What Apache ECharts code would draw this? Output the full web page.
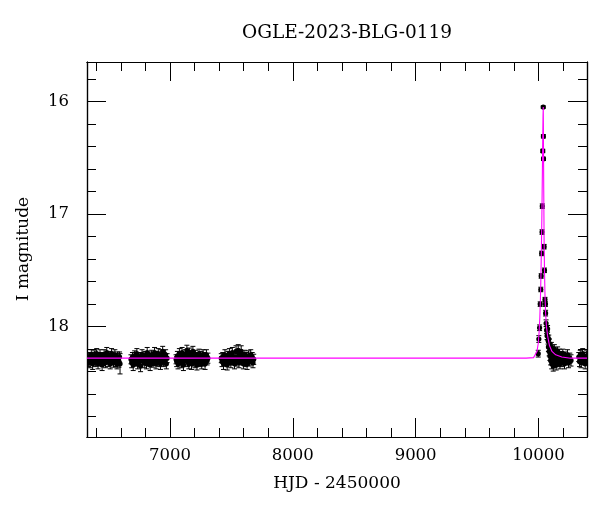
<!DOCTYPE html>
<html>
<head>
<meta charset="utf-8">
<script src="https://cdn.jsdelivr.net/npm/echarts@6/dist/echarts.min.js"></script>
<style>html,body{margin:0;padding:0;background:#fff}#c{width:600px;height:512px}</style>
</head>
<body>
<div id="c"></div>
<script>
// ---- data: [HJD-2450000, I mag, error] ----
const seasonA = [[6332,18.28,0.04],[6338,18.31,0.045],[6343,18.27,0.04],[6349,18.32,0.045],[6354,18.29,0.04],[6360,18.25,0.045],[6365,18.30,0.04],[6371,18.33,0.05],[6376,18.27,0.04],[6382,18.29,0.04],[6387,18.26,0.045],[6393,18.31,0.045],[6398,18.28,0.04],[6404,18.24,0.045],[6409,18.30,0.04],[6415,18.33,0.045],[6420,18.27,0.04],[6426,18.29,0.04],[6431,18.25,0.045],[6437,18.31,0.04],[6442,18.28,0.04],[6448,18.34,0.05],[6453,18.27,0.04],[6459,18.30,0.045],[6464,18.25,0.045],[6470,18.29,0.04],[6475,18.32,0.045],[6481,18.27,0.04],[6486,18.23,0.045],[6492,18.29,0.04],[6497,18.31,0.045],[6503,18.26,0.04],[6508,18.29,0.04],[6514,18.33,0.045],[6519,18.28,0.04],[6525,18.24,0.045],[6530,18.30,0.04],[6536,18.27,0.045],[6541,18.32,0.04],[6547,18.29,0.04],[6552,18.25,0.045],[6558,18.31,0.045],[6563,18.28,0.04],[6569,18.33,0.045],[6574,18.27,0.045],[6580,18.29,0.04],[6585,18.31,0.05],[6590,18.27,0.045],[6594,18.33,0.09]];
const seasonB = [[6683,18.29,0.04],[6689,18.32,0.045],[6695,18.27,0.04],[6701,18.34,0.05],[6707,18.30,0.04],[6713,18.26,0.045],[6719,18.31,0.04],[6725,18.28,0.04],[6731,18.24,0.045],[6737,18.33,0.045],[6743,18.29,0.04],[6749,18.27,0.04],[6755,18.31,0.045],[6761,18.35,0.05],[6767,18.27,0.04],[6773,18.25,0.045],[6779,18.30,0.04],[6785,18.28,0.04],[6791,18.32,0.045],[6797,18.26,0.04],[6803,18.29,0.04],[6809,18.33,0.045],[6815,18.23,0.045],[6821,18.29,0.04],[6827,18.31,0.04],[6833,18.27,0.045],[6839,18.34,0.05],[6845,18.28,0.04],[6851,18.25,0.04],[6857,18.30,0.045],[6863,18.32,0.04],[6869,18.27,0.04],[6875,18.23,0.045],[6881,18.29,0.04],[6887,18.33,0.045],[6893,18.26,0.04],[6899,18.29,0.04],[6905,18.24,0.045],[6911,18.31,0.045],[6917,18.28,0.04],[6923,18.33,0.05],[6929,18.25,0.045],[6935,18.29,0.04],[6941,18.22,0.045],[6947,18.31,0.045],[6953,18.27,0.04],[6959,18.30,0.04],[6965,18.25,0.045],[6971,18.33,0.045],[6977,18.28,0.04]];
const seasonC = [[7050,18.29,0.04],[7055,18.31,0.045],[7061,18.26,0.04],[7066,18.33,0.045],[7072,18.29,0.04],[7077,18.24,0.045],[7083,18.31,0.04],[7088,18.27,0.04],[7094,18.32,0.045],[7099,18.23,0.045],[7105,18.29,0.04],[7110,18.34,0.05],[7116,18.27,0.04],[7121,18.30,0.04],[7127,18.25,0.045],[7132,18.28,0.04],[7138,18.21,0.045],[7143,18.31,0.045],[7149,18.27,0.04],[7154,18.33,0.045],[7160,18.23,0.04],[7165,18.29,0.04],[7171,18.26,0.045],[7176,18.33,0.05],[7182,18.28,0.04],[7187,18.22,0.045],[7193,18.31,0.04],[7198,18.27,0.04],[7204,18.32,0.045],[7209,18.25,0.04],[7215,18.29,0.04],[7220,18.34,0.045],[7226,18.27,0.04],[7231,18.30,0.045],[7237,18.24,0.04],[7242,18.31,0.045],[7248,18.28,0.04],[7253,18.26,0.04],[7259,18.33,0.045],[7264,18.29,0.04],[7270,18.25,0.045],[7275,18.31,0.04],[7281,18.27,0.04],[7286,18.33,0.05],[7292,18.29,0.04],[7297,18.25,0.045],[7303,18.30,0.04],[7309,18.28,0.045]];
const seasonD = [[7418,18.28,0.04],[7424,18.31,0.045],[7430,18.27,0.04],[7436,18.33,0.05],[7442,18.29,0.04],[7448,18.25,0.045],[7454,18.31,0.04],[7460,18.28,0.04],[7466,18.34,0.045],[7472,18.26,0.04],[7478,18.30,0.04],[7484,18.24,0.045],[7490,18.29,0.04],[7496,18.32,0.045],[7502,18.27,0.04],[7508,18.23,0.045],[7514,18.30,0.04],[7520,18.27,0.04],[7526,18.33,0.045],[7532,18.29,0.04],[7538,18.22,0.05],[7544,18.31,0.04],[7550,18.27,0.04],[7556,18.21,0.05],[7562,18.32,0.045],[7568,18.28,0.04],[7574,18.25,0.04],[7580,18.22,0.05],[7586,18.30,0.04],[7592,18.27,0.04],[7598,18.33,0.045],[7604,18.29,0.04],[7610,18.25,0.04],[7616,18.31,0.045],[7622,18.27,0.04],[7628,18.33,0.05],[7634,18.29,0.04],[7640,18.26,0.045],[7646,18.31,0.04],[7652,18.28,0.04],[7658,18.25,0.045],[7664,18.30,0.04],[7670,18.27,0.04],[7676,18.32,0.045],[7682,18.29,0.045]];
const eventPts = [[9998,18.24,0.03],[10003,18.11,0.03],[10009,18.01,0.025],[10014,17.80,0.02],[10019,17.67,0.02],[10022,17.55,0.02],[10026,17.35,0.02],[10029,17.16,0.02],[10031,16.93,0.02],[10035,16.44,0.015],[10039,16.05,0.01],[10040,16.31,0.015],[10041,16.51,0.015],[10046,17.29,0.02],[10049,17.50,0.02],[10053,17.76,0.02],[10057,17.80,0.02],[10058,17.88,0.025]];
const postPts = [[10062,17.97,0.03],[10066,18.03,0.03],[10070,18.08,0.035],[10074,18.02,0.03],[10078,18.12,0.035],[10081,18.18,0.04],[10084,18.11,0.035],[10087,18.22,0.04],[10090,18.15,0.04],[10093,18.26,0.04],[10096,18.19,0.04],[10099,18.30,0.04],[10102,18.24,0.04],[10105,18.18,0.04],[10108,18.33,0.045],[10111,18.26,0.04],[10114,18.22,0.04],[10117,18.30,0.04],[10120,18.35,0.045],[10123,18.24,0.04],[10126,18.28,0.04],[10129,18.20,0.04],[10132,18.32,0.045],[10135,18.26,0.04],[10138,18.23,0.04],[10141,18.30,0.04],[10144,18.34,0.045],[10148,18.26,0.04],[10152,18.29,0.04],[10156,18.22,0.04],[10160,18.31,0.045],[10165,18.27,0.04],[10170,18.24,0.04],[10175,18.33,0.045],[10180,18.28,0.04],[10186,18.26,0.04],[10192,18.31,0.045],[10198,18.24,0.04],[10205,18.29,0.04],[10212,18.33,0.045],[10220,18.27,0.045],[10228,18.30,0.04],[10236,18.25,0.045],[10245,18.32,0.045],[10255,18.28,0.045],[10265,18.30,0.05]];
const lastPts = [[10328,18.27,0.04],[10334,18.31,0.045],[10340,18.25,0.04],[10347,18.32,0.045],[10353,18.28,0.04],[10360,18.24,0.045],[10366,18.30,0.04],[10373,18.27,0.04],[10380,18.33,0.045],[10386,18.29,0.04],[10392,18.26,0.045]];
// model light curve
const modelT = [6325,9900,9960,9975,9988,9998,10005,10011,10016,10020,10024,10028,10032,10035,10037,10039,10040,10041,10043,10046,10049,10053,10058,10065,10074,10090,10110,10140,10190,10260,10395];
const modelM = [18.28,18.28,18.275,18.26,18.22,18.15,18.05,17.92,17.75,17.55,17.30,17.00,16.60,16.30,16.13,16.05,16.22,16.42,16.80,17.25,17.50,17.72,17.88,18.00,18.08,18.17,18.22,18.25,18.27,18.28,18.28];
// axis ticks
const xMajor = [7000,8000,9000,10000];
const xMinor = [6400,6600,6800,7200,7400,7600,7800,8200,8400,8600,8800,9200,9400,9600,9800,10200];
const yMajor = [16,17,18];
const yMinor = [15.8,16.2,16.4,16.6,16.8,17.2,17.4,17.6,17.8,18.2,18.4,18.6,18.8];
const titleText = 'OGLE-2023-BLG-0119';
const xName = 'HJD - 2450000';
const yName = 'I magnitude';

const FONT = 'DejaVu Serif';
const allPts = seasonA.concat(seasonB, seasonC, seasonD, eventPts, postPts, lastPts);
const modelData = modelT.map((t, i) => [t, modelM[i]]);
const X0 = 6325, X1 = 10395, Y0 = 15.65, Y1 = 18.98;
const line = {show: true, lineStyle: {color: '#000', width: 1.2}};

function xAx(pos, vals, len, labels) {
  return {type: 'value', position: pos, min: X0, max: X1, axisLine: line,
    axisTick: {show: true, inside: true, length: len, customValues: vals, lineStyle: {color: '#000', width: 1}},
    axisLabel: labels ? {show: true, customValues: vals, formatter: v => String(v), color: '#000', fontFamily: FONT, fontSize: 16.5, margin: 10} : {show: false},
    splitLine: {show: false}, minorTick: {show: false}};
}
function yAx(pos, vals, len, labels) {
  return {type: 'value', position: pos, inverse: true, min: Y0, max: Y1, axisLine: line,
    axisTick: {show: true, inside: true, length: len, customValues: vals, lineStyle: {color: '#000', width: 1}},
    axisLabel: labels ? {show: true, customValues: vals, formatter: v => String(v), color: '#000', fontFamily: FONT, fontSize: 16.5, margin: 18} : {show: false},
    splitLine: {show: false}, minorTick: {show: false}};
}

const chart = echarts.init(document.getElementById('c'), null, {renderer: 'canvas'});
chart.setOption({
  animation: false,
  backgroundColor: '#fff',
  grid: {left: 87, right: 13, top: 62, bottom: 75, containLabel: false},
  xAxis: [xAx('bottom', xMajor, 19, true), xAx('bottom', xMinor, 9, false), xAx('top', xMajor, 19, false), xAx('top', xMinor, 9, false)],
  yAxis: [yAx('left', yMajor, 19, true), yAx('left', yMinor, 9, false), yAx('right', yMajor, 19, false), yAx('right', yMinor, 9, false)],
  series: [
    {type: 'custom', xAxisIndex: 0, yAxisIndex: 0, clip: true, data: allPts, encode: {x: 0, y: 1}, z: 2,
      renderItem: function (params, api) {
        const t = api.value(0), m = api.value(1), e = api.value(2);
        const c = api.coord([t, m]);
        const hi = api.coord([t, m - e]);
        const lo = api.coord([t, m + e]);
        const st = {stroke: '#000', lineWidth: 1};
        return {type: 'group', children: [
          {type: 'line', shape: {x1: c[0], y1: hi[1], x2: c[0], y2: lo[1]}, style: st},
          {type: 'line', shape: {x1: c[0] - 2.5, y1: hi[1], x2: c[0] + 2.5, y2: hi[1]}, style: st},
          {type: 'line', shape: {x1: c[0] - 2.5, y1: lo[1], x2: c[0] + 2.5, y2: lo[1]}, style: st},
          {type: 'circle', shape: {cx: c[0], cy: c[1], r: 2.6}, style: {fill: '#000'}}
        ]};
      }},
    {type: 'line', xAxisIndex: 0, yAxisIndex: 0, data: modelData, showSymbol: false, smooth: false, z: 5,
      lineStyle: {color: '#ff00ff', width: 1.1}}
  ],
  graphic: [
    {type: 'text', x: 347, y: 33, style: {text: titleText, font: '18.5px "DejaVu Serif"', fill: '#000', align: 'center', verticalAlign: 'middle'}},
    {type: 'text', x: 337, y: 484, style: {text: xName, font: '17px "DejaVu Serif"', fill: '#000', align: 'center', verticalAlign: 'middle'}},
    {type: 'text', x: 24, y: 249, rotation: Math.PI / 2, style: {text: yName, font: '17px "DejaVu Serif"', fill: '#000', align: 'center', verticalAlign: 'middle'}}
  ]
});
</script>
</body>
</html>
